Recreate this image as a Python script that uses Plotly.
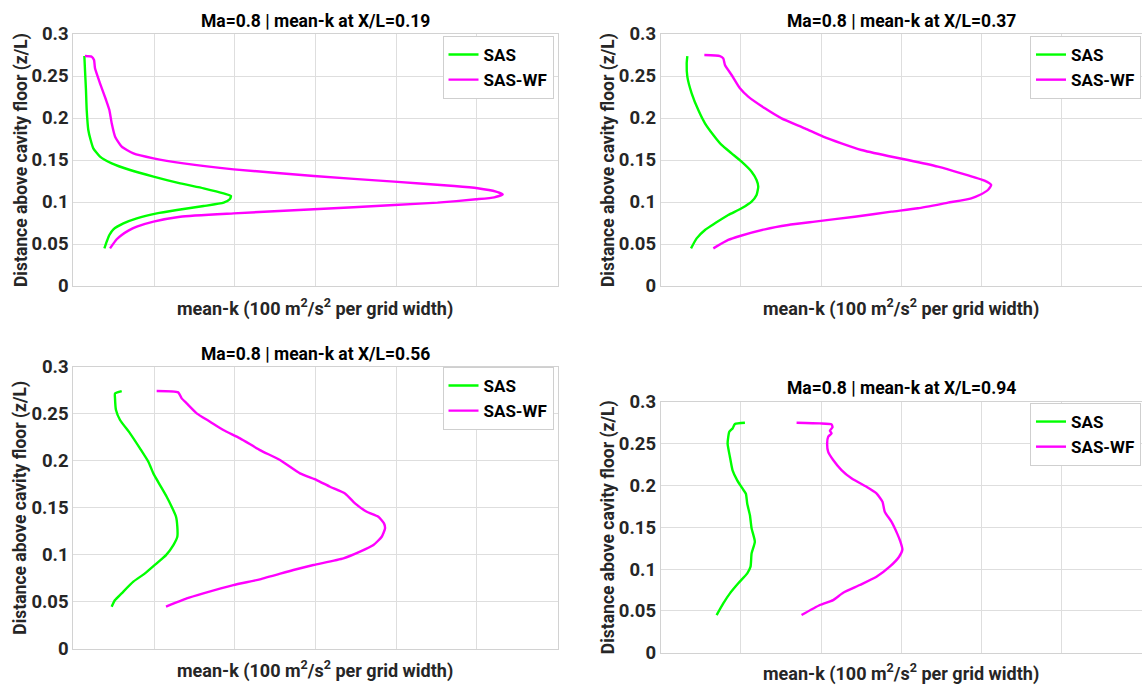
import plotly.graph_objects as go

W, H = 1142, 687

# ---------------- data (mean-k in grid units vs z/L) ----------------
# X/L = 0.19
sas_019_k = [0.137, 0.145, 0.157, 0.166, 0.186, 0.215, 0.248, 0.331, 0.476, 0.704, 0.994, 1.325, 1.615,
             1.863, 1.954, 1.938, 1.863, 1.615, 1.284, 1.035, 0.787, 0.621, 0.497, 0.447, 0.414, 0.385]
sas_019_z = [0.2738, 0.257, 0.2333, 0.2095, 0.1857, 0.1738, 0.1639, 0.154, 0.146, 0.1381, 0.1302, 0.1222,
             0.1163, 0.1103, 0.1071, 0.1032, 0.0992, 0.0952, 0.0905, 0.0865, 0.0806, 0.0746, 0.0675,
             0.0607, 0.0528, 0.0448]
wf_019_k = [0.145, 0.228, 0.257, 0.269, 0.331, 0.406, 0.447, 0.476, 0.518, 0.600, 0.745, 0.994, 1.366,
            1.988, 2.981, 3.975, 4.720, 5.01, 5.238, 5.321, 5.217, 4.99, 4.513, 3.975, 2.981, 1.988,
            1.325, 0.994, 0.787, 0.683, 0.600, 0.538, 0.455]
wf_019_z = [0.2738, 0.273, 0.269, 0.2591, 0.2413, 0.2214, 0.2095, 0.1937, 0.1778, 0.1659, 0.1579, 0.152,
            0.146, 0.1389, 0.131, 0.1242, 0.119, 0.1163, 0.1123, 0.1091, 0.1056, 0.1032, 0.0992, 0.0964,
            0.0913, 0.0865, 0.0825, 0.0766, 0.0706, 0.0659, 0.0607, 0.0556, 0.0448]

# X/L = 0.37
sas_037_k = [0.332, 0.324, 0.332, 0.386, 0.469, 0.552, 0.656, 0.759, 0.884, 1.008, 1.133, 1.195, 1.216,
             1.195, 1.133, 1.008, 0.842, 0.676, 0.552, 0.448, 0.378]
sas_037_z = [0.2738, 0.265, 0.2492, 0.2294, 0.2095, 0.1937, 0.1798, 0.1679, 0.1579, 0.148, 0.1361, 0.1262,
             0.1183, 0.1083, 0.1004, 0.0925, 0.0845, 0.0746, 0.0667, 0.0567, 0.0448]
wf_037_k = [0.544, 0.739, 0.780, 0.801, 0.884, 0.988, 1.091, 1.299, 1.506, 1.797, 2.025, 2.253, 2.502,
            2.834, 3.083, 3.456, 3.747, 4.037, 4.12, 4.079, 3.975, 3.871, 3.581, 3.207, 2.876, 2.419,
            1.921, 1.589, 1.299, 0.988, 0.842, 0.656]
wf_037_z = [0.275, 0.2738, 0.271, 0.2631, 0.2512, 0.2353, 0.2254, 0.2115, 0.1996, 0.1877, 0.1778, 0.1698,
            0.1619, 0.1548, 0.15, 0.1421, 0.1341, 0.1254, 0.1202, 0.1143, 0.1083, 0.1044, 0.0992, 0.0925,
            0.0885, 0.0825, 0.0766, 0.0726, 0.0675, 0.0595, 0.0548, 0.0448]

# X/L = 0.56
sas_056_k = [0.60, 0.517, 0.517, 0.529, 0.579, 0.703, 0.826, 0.93, 0.992, 1.074, 1.157, 1.219, 1.273,
             1.289, 1.289, 1.24, 1.149, 1.033, 0.888, 0.744, 0.599, 0.517, 0.475]
sas_056_z = [0.2741, 0.2716, 0.2663, 0.2539, 0.2433, 0.2291, 0.2131, 0.1989, 0.1865, 0.1741, 0.1617,
             0.1511, 0.1404, 0.1298, 0.1191, 0.1103, 0.0996, 0.0908, 0.0801, 0.0713, 0.0589, 0.0518, 0.0447]
wf_056_k = [1.033, 1.30, 1.343, 1.405, 1.529, 1.694, 1.859, 2.066, 2.313, 2.561, 2.809, 3.016, 3.181,
            3.367, 3.491, 3.636, 3.78, 3.85, 3.863, 3.822, 3.719, 3.553, 3.347, 2.975, 2.727, 2.313,
            1.983, 1.611, 1.405, 1.149]
wf_056_z = [0.2741, 0.2727, 0.2663, 0.261, 0.2504, 0.2415, 0.2326, 0.2238, 0.2113, 0.2007, 0.1865, 0.1794,
            0.1723, 0.1652, 0.1546, 0.1457, 0.1404, 0.1333, 0.128, 0.1191, 0.1103, 0.1032, 0.0961, 0.089,
            0.0837, 0.0738, 0.0677, 0.0589, 0.0535, 0.0447]

# X/L = 0.94
sas_094_k = [1.05, 0.925, 0.896, 0.855, 0.834, 0.863, 0.896, 0.954, 1.021, 1.062, 1.079, 1.112, 1.133,
             1.174, 1.133, 1.12, 1.079, 0.967, 0.863, 0.78, 0.697]
sas_094_z = [0.2749, 0.2733, 0.268, 0.264, 0.250, 0.234, 0.218, 0.206, 0.196, 0.190, 0.178, 0.1645, 0.1486,
             0.1327, 0.1187, 0.1028, 0.0948, 0.0829, 0.0709, 0.059, 0.045]
wf_094_k = [1.694, 1.984, 2.13, 2.142, 2.109, 2.13, 2.088, 2.075, 2.088, 2.15, 2.254, 2.378, 2.565, 2.69,
            2.765, 2.793, 2.876, 2.947, 2.988, 3.013, 2.972, 2.855, 2.69, 2.482, 2.275, 2.15, 1.984, 1.756]
wf_094_z = [0.2749, 0.2741, 0.2729, 0.2693, 0.2653, 0.2622, 0.2582, 0.250, 0.240, 0.2303, 0.2183, 0.2084,
            0.1984, 0.1904, 0.1805, 0.1685, 0.1566, 0.1426, 0.1327, 0.1235, 0.1147, 0.1028, 0.0908,
            0.0809, 0.0717, 0.0629, 0.057, 0.045]

positions = ["0.19", "0.37", "0.56", "0.94"]
series_names = ["SAS", "SAS-WF"]
y_ticks = [0, 0.05, 0.1, 0.15, 0.2, 0.25, 0.3]
x_title = "mean-k (100 m<sup>2</sup>/s<sup>2</sup> per grid width)"
y_title = "Distance above cavity floor (z/L)"

panels = [
    (sas_019_k, sas_019_z, wf_019_k, wf_019_z),
    (sas_037_k, sas_037_z, wf_037_k, wf_037_z),
    (sas_056_k, sas_056_z, wf_056_k, wf_056_z),
    (sas_094_k, sas_094_z, wf_094_k, wf_094_z),
]

# ---------------- layout geometry (pixels) ----------------
boxes = [
    (73.3, 557.5, 34.0, 286.0),
    (660.7, 1142.0, 34.0, 286.0),
    (73.3, 557.5, 366.7, 648.7),
    (660.7, 1142.0, 401.7, 652.7),
]
title_y = [20.7, 20.7, 354.0, 388.3]
xlab_y = [307.0, 307.0, 669.0, 672.5]
ylab_x = [21.0, 608.0, 21.0, 608.0]
legend_pos = [(553.5, 36.0), (1141.0, 36.0), (553.5, 367.0), (1141.0, 403.0)]

GREEN = "#00FF00"
MAGENTA = "#FF00FF"
FONT = "Roboto"
TXT = "#262626"

fig = go.Figure()
annotations = []
layout_axes = {}

for i, (sk, sz, wk, wz) in enumerate(panels):
    n = "" if i == 0 else str(i + 1)
    left, right, top, bottom = boxes[i]
    layout_axes["xaxis" + n] = dict(
        domain=[left / W, right / W], range=[0, 6], dtick=1, tick0=0,
        showticklabels=False, ticks="", showgrid=True, gridcolor="#dedede", gridwidth=1,
        showline=True, mirror=True, linecolor="#d2d2d2", linewidth=1, zeroline=False,
        anchor="y" + n, fixedrange=True, automargin=False,
    )
    layout_axes["yaxis" + n] = dict(
        domain=[1 - bottom / H, 1 - top / H], range=[0, 0.3], tickvals=y_ticks,
        ticktext=[f"{v:g}" for v in y_ticks],
        showgrid=True, gridcolor="#dedede", gridwidth=1, ticks="",
        showline=True, mirror=True, linecolor="#d2d2d2", linewidth=1, zeroline=False,
        tickfont=dict(family=FONT, size=18.5, color=TXT, weight="bold"),
        anchor="x" + n, fixedrange=True, automargin=False,
    )

    leg = "legend" + n
    fig.add_trace(go.Scatter(x=sk, y=sz, mode="lines", name=series_names[0],
                             line=dict(color=GREEN, width=2.4, shape="spline", smoothing=0.5),
                             xaxis="x" + n, yaxis="y" + n, legend=leg))
    fig.add_trace(go.Scatter(x=wk, y=wz, mode="lines", name=series_names[1],
                             line=dict(color=MAGENTA, width=2.4, shape="spline", smoothing=0.5),
                             xaxis="x" + n, yaxis="y" + n, legend=leg))

    lx, ly = legend_pos[i]
    layout_axes[leg] = dict(
        x=lx / W, y=1 - ly / H, xanchor="right", yanchor="top",
        bgcolor="white", bordercolor="#cfcfcf", borderwidth=1,
        font=dict(family=FONT, size=17, color="black", weight="bold"),
        itemwidth=30, tracegroupgap=0,
    )

    cx = (left + right) / 2
    annotations.append(dict(
        text=f"Ma=0.8 | mean-k at X/L={positions[i]}", x=cx / W, y=1 - title_y[i] / H,
        xref="paper", yref="paper", xanchor="center", yanchor="middle", showarrow=False,
        font=dict(family=FONT, size=17.5, color="black", weight="bold")))
    annotations.append(dict(
        text=x_title, x=cx / W, y=1 - xlab_y[i] / H,
        xref="paper", yref="paper", xanchor="center", yanchor="middle", showarrow=False,
        font=dict(family=FONT, size=18, color=TXT, weight="bold")))
    annotations.append(dict(
        text=y_title, x=ylab_x[i] / W, y=1 - (top + bottom) / 2 / H, textangle=-90,
        xref="paper", yref="paper", xanchor="center", yanchor="middle", showarrow=False,
        font=dict(family=FONT, size=17.5, color=TXT, weight="bold")))

fig.update_layout(
    width=W, height=H, margin=dict(l=0, r=0, t=0, b=0, pad=0, autoexpand=False),
    paper_bgcolor="white", plot_bgcolor="white",
    annotations=annotations, showlegend=True,
    **layout_axes,
)

fig.write_html("out.html", include_plotlyjs=True, full_html=True,
               config={"displayModeBar": False})
